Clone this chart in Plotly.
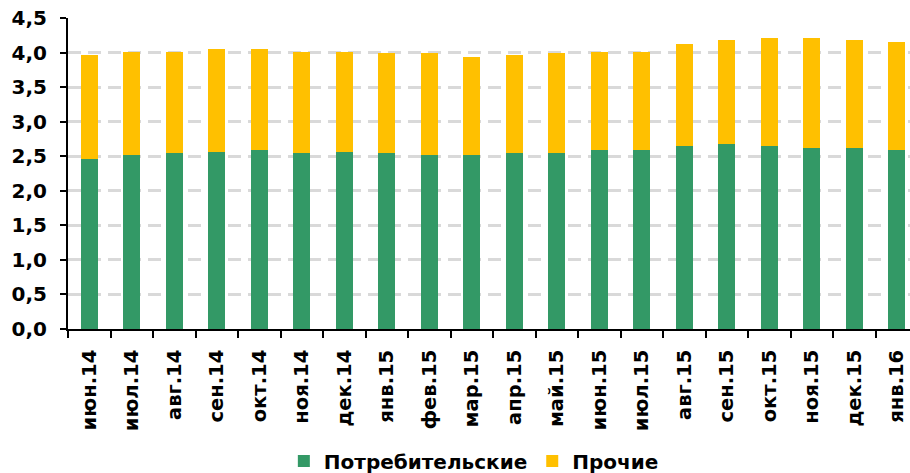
import plotly.graph_objects as go

months = ["июн.14", "июл.14", "авг.14", "сен.14", "окт.14", "ноя.14", "дек.14",
          "янв.15", "фев.15", "мар.15", "апр.15", "май.15", "июн.15", "июл.15",
          "авг.15", "сен.15", "окт.15", "ноя.15", "дек.15", "янв.16"]
consumer = [2.46, 2.52, 2.54, 2.565, 2.59, 2.54, 2.565, 2.54, 2.52, 2.52,
            2.54, 2.54, 2.59, 2.59, 2.65, 2.68, 2.65, 2.62, 2.62, 2.59]
total = [3.96, 4.01, 4.01, 4.05, 4.05, 4.01, 4.01, 3.99, 3.99, 3.93,
         3.96, 3.99, 4.01, 4.01, 4.125, 4.18, 4.21, 4.21, 4.18, 4.15]
other = [round(t - c, 3) for t, c in zip(total, consumer)]

FONT = "DejaVu Sans"

fig = go.Figure()
fig.add_trace(go.Bar(x=months, y=consumer, name="Потребительские",
                     marker=dict(color="#339966", line=dict(width=0)), width=0.4))
fig.add_trace(go.Bar(x=months, y=other, name="Прочие",
                     marker=dict(color="#FFC000", line=dict(width=0)), width=0.4))

fig.update_layout(
    barmode="stack",
    width=910, height=473,
    margin=dict(l=68, r=0, t=18, b=144, autoexpand=False),
    paper_bgcolor="white", plot_bgcolor="white",
    separators=", ",
    font=dict(family=FONT, color="black", weight="bold"),
    showlegend=True,
    legend=dict(orientation="h", x=0.482, xanchor="center", yref="container",
                y=1 - 461 / 473, yanchor="middle", traceorder="normal",
                font=dict(size=20, family=FONT, weight="bold"),
                itemwidth=30, tracegroupgap=0),
)
fig.update_xaxes(
    type="category", range=[-0.5, 19.31], automargin=False,
    showline=True, linecolor="black", linewidth=2,
    ticks="outside", tickson="boundaries", ticklen=7, tickwidth=2, tickcolor="black",
    tickangle=-90, tickfont=dict(size=19.5, family=FONT, weight="bold"),
    ticklabelstandoff=11,
    showgrid=False,
)
fig.update_yaxes(
    range=[0, 4.5], dtick=0.5, tickformat=".1f", automargin=False,
    showline=True, linecolor="black", linewidth=2,
    ticks="outside", ticklen=6, tickwidth=2, tickcolor="black",
    tickfont=dict(size=20, family=FONT, weight="bold"),
    ticklabelstandoff=9,
    showgrid=True, gridcolor="#D9D9D9", gridwidth=3, griddash="13px,7px",
    zeroline=False,
)

fig.write_html("out.html", config={"displayModeBar": False},
               post_script="document.body.style.margin='0';document.body.style.overflow='hidden';")
